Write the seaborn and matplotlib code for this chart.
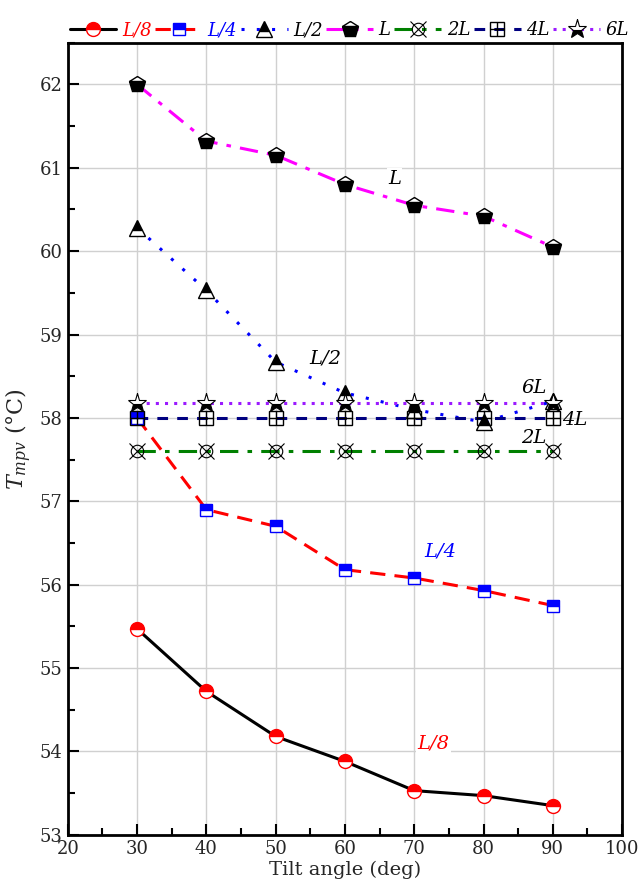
import numpy as np
import pandas as pd
import seaborn as sns
import matplotlib
matplotlib.use("Agg")
import matplotlib.pyplot as plt
from matplotlib.legend_handler import HandlerTuple
from matplotlib.ticker import MultipleLocator

sns.set_theme(style="white")
plt.rcParams['font.family'] = ['DejaVu Serif']
plt.rcParams['mathtext.fontset'] = 'dejavuserif'

angles = [30, 40, 50, 60, 70, 80, 90]
labels = ["L/8", "L/4", "L/2", "L", "2L", "4L", "6L"]
t_L8 = [55.47, 54.72, 54.18, 53.88, 53.53, 53.47, 53.35]
t_L4 = [58.00, 56.90, 56.70, 56.18, 56.08, 55.93, 55.75]
t_L2 = [60.28, 59.53, 58.67, 58.30, 58.10, 57.95, 58.20]
t_L = [62.00, 61.32, 61.15, 60.80, 60.55, 60.42, 60.05]
t_2L = [57.60, 57.60, 57.60, 57.60, 57.60, 57.60, 57.60]
t_4L = [58.00, 58.00, 58.00, 58.00, 58.00, 58.00, 58.00]
t_6L = [58.18, 58.18, 58.18, 58.18, 58.18, 58.18, 58.18]

fig = plt.figure(figsize=(6.4, 8.9), dpi=100)
ax = fig.add_axes([0.106, 0.062, 0.866, 0.89])

handles = []

def series(y, line_kw, marker_kws):
    df = pd.DataFrame({"x": angles, "y": y})
    sns.lineplot(data=df, x="x", y="y", ax=ax, zorder=3, **line_kw)
    ln = ax.lines[-1]
    mks = []
    for mk in marker_kws:
        sns.lineplot(data=df, x="x", y="y", ax=ax, linestyle="none", zorder=4, **mk)
        mks.append(ax.lines[-1])
    return (ln, *mks)

# L/8
handles.append(series(t_L8, dict(color="black", linewidth=2.2),
                      [dict(marker="o", markersize=10, fillstyle="top", markerfacecolor="red",
                            markerfacecoloralt="white", markeredgecolor="red", markeredgewidth=1)]))
# L/4
handles.append(series(t_L4, dict(color="red", linewidth=2.2, dashes=(5, 3)),
                      [dict(marker="s", markersize=9, fillstyle="top", markerfacecolor="blue",
                            markerfacecoloralt="white", markeredgecolor="blue", markeredgewidth=1)]))
# L/2
handles.append(series(t_L2, dict(color="blue", linewidth=2.2, dashes=(1, 4)),
                      [dict(marker="^", markersize=11, fillstyle="top", markerfacecolor="black",
                            markerfacecoloralt="white", markeredgecolor="black", markeredgewidth=1)]))
# L
handles.append(series(t_L, dict(color="magenta", linewidth=2.2, dashes=(6, 3, 1.5, 3)),
                      [dict(marker="p", markersize=12, fillstyle="bottom", markerfacecolor="black",
                            markerfacecoloralt="white", markeredgecolor="black", markeredgewidth=1)]))
# 2L
handles.append(series(t_2L, dict(color="green", linewidth=2.2, dashes=(6, 3, 1.5, 3)),
                      [dict(marker="o", markersize=9, fillstyle="none", markeredgecolor="black", markeredgewidth=0.8),
                       dict(marker="x", markersize=11, markeredgecolor="black", markeredgewidth=0.8)]))
# 4L
handles.append(series(t_4L, dict(color="navy", linewidth=2.2, dashes=(3.5, 3)),
                      [dict(marker="s", markersize=10, fillstyle="none", markeredgecolor="black", markeredgewidth=1),
                       dict(marker="+", markersize=10, markeredgecolor="black", markeredgewidth=1)]))
# 6L
handles.append(series(t_6L, dict(color="#9b1aff", linewidth=2.2, dashes=(1, 2)),
                      [dict(marker="*", markersize=14, fillstyle="bottom", markerfacecolor="black",
                            markerfacecoloralt="white", markeredgecolor="black", markeredgewidth=0.8)]))

ax.set_xlim(20, 100)
ax.set_ylim(53, 62.5)
ax.xaxis.set_major_locator(MultipleLocator(10))
ax.xaxis.set_minor_locator(MultipleLocator(5))
ax.yaxis.set_major_locator(MultipleLocator(1))
ax.yaxis.set_minor_locator(MultipleLocator(0.5))
ax.grid(True, which="major", color="#d0d0d0", linewidth=1, zorder=0)
ax.set_axisbelow(True)
ax.tick_params(which="both", direction="in", left=True, bottom=True, top=False, right=False,
               labelsize=13, color="black", pad=4)
ax.tick_params(which="major", length=8, width=1.5)
ax.tick_params(which="minor", length=5, width=1.5)
for s in ax.spines.values():
    s.set_color("black")
    s.set_linewidth(2)
ax.set_xlabel("Tilt angle (deg)", fontsize=14, labelpad=2)
ax.set_ylabel(r"$T_{mpv}$ (°C)", fontsize=16, labelpad=4)
ax.yaxis.set_major_formatter(matplotlib.ticker.FormatStrFormatter("%d"))

bbox = dict(facecolor="white", edgecolor="none", pad=1)
txt = dict(fontsize=14, style="italic", zorder=5, ha="left", va="center")
ax.text(66.2, 60.87, "L", color="black", bbox=bbox, **txt)
ax.text(54.9, 58.71, "L/2", color="black", bbox=bbox, **txt)
ax.text(85.5, 58.36, "6L", color="black", **txt)
ax.text(91.3, 57.98, "4L", color="black", **txt)
ax.text(85.4, 57.76, "2L", color="black", **txt)
ax.text(71.5, 56.40, "L/4", color="blue", bbox=bbox, **txt)
ax.text(70.5, 54.10, "L/8", color="red", bbox=bbox, **txt)

ax.legend([tuple(h) for h in handles], labels, handler_map={tuple: HandlerTuple(ndivide=1, pad=0)},
          loc="lower left", bbox_to_anchor=(-0.01, 0.995), ncol=7, frameon=False,
          handlelength=2.6, handletextpad=0.3, columnspacing=0.2, borderaxespad=0,
          prop=dict(style="italic", size=13))
leg = ax.get_legend()
cols = ["red", "blue", "black", "black", "black", "black", "black"]
for t, c in zip(leg.get_texts(), cols):
    t.set_color(c)

fig.savefig("out.png", dpi=100)
